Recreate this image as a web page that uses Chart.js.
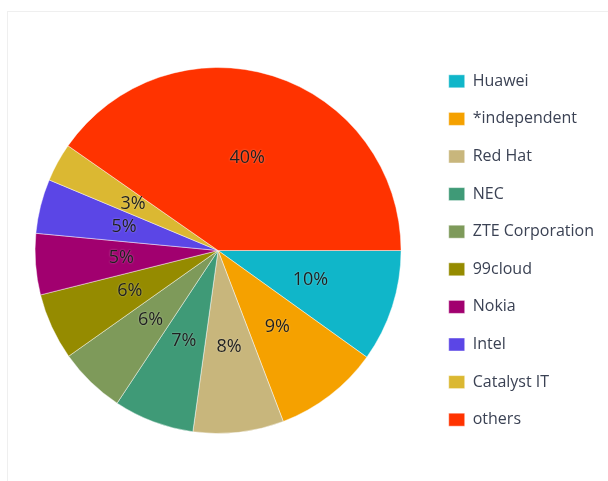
<!DOCTYPE html>
<html>
<head>
<meta charset="utf-8">
<script src="https://cdn.jsdelivr.net/npm/chart.js@4"></script>
<style>
  html, body { margin: 0; padding: 0; background: #fff; }
  #frame { position: absolute; left: 7px; top: 11px; width: 700px; height: 600px; border: 1px solid #efefef; box-sizing: border-box; }
  #wrap { position: absolute; left: 0; top: 0; width: 608px; height: 481px; }
</style>
</head>
<body>
<div id="frame"></div>
<div id="wrap"><canvas id="c" width="608" height="481"></canvas></div>
<script>
const categories = ["Huawei", "*independent", "Red Hat", "NEC", "ZTE Corporation", "99cloud", "Nokia", "Intel", "Catalyst IT", "others"];
const shares = [9.9, 9.3, 8.0, 7.1, 5.9, 5.9, 5.4, 4.8, 3.4, 40.3];
const colors = ["#10b6c9", "#f5a100", "#c8b67c", "#3f9a77", "#7e9a5a", "#958b00", "#a1006f", "#5b46e6", "#dbb832", "#ff3300"];

const pctLabels = {
  id: 'pctLabels',
  afterDatasetsDraw(chart) {
    const ctx = chart.ctx;
    const meta = chart.getDatasetMeta(0);
    const data = chart.data.datasets[0].data;
    const total = data.reduce((a, b) => a + b, 0);
    ctx.save();
    ctx.font = '18px "Open Sans", sans-serif';
    ctx.textAlign = 'center';
    ctx.textBaseline = 'middle';
    ctx.fillStyle = '#1f1f1f';
    ctx.shadowColor = 'rgba(255,255,255,0.45)';
    ctx.shadowBlur = 2;
    meta.data.forEach((arc, i) => {
      const p = arc.getProps(['x', 'y', 'startAngle', 'endAngle', 'outerRadius'], true);
      const mid = (p.startAngle + p.endAngle) / 2;
      const r = p.outerRadius * 0.53;
      const x = p.x + Math.cos(mid) * r;
      const y = p.y + Math.sin(mid) * r;
      ctx.fillText(Math.round(data[i] / total * 100) + '%', x, y);
    });
    ctx.restore();
  }
};

new Chart(document.getElementById('c'), {
  type: 'pie',
  data: {
    labels: categories,
    datasets: [{
      data: shares,
      backgroundColor: colors,
      borderColor: 'rgba(255,255,255,0.45)',
      borderWidth: 1,
      radius: 183
    }]
  },
  options: {
    responsive: false,
    animation: false,
    rotation: 90,
    layout: { padding: { top: 26, bottom: 6, left: 9, right: 4 } },
    plugins: {
      tooltip: { enabled: false },
      legend: {
        position: 'right',
        labels: {
          boxWidth: 16,
          boxHeight: 13,
          padding: 21.6,
          color: '#3b4254',
          font: { family: '"Open Sans", sans-serif', size: 16 }
        }
      }
    }
  },
  plugins: [pctLabels]
});
</script>
</body>
</html>
